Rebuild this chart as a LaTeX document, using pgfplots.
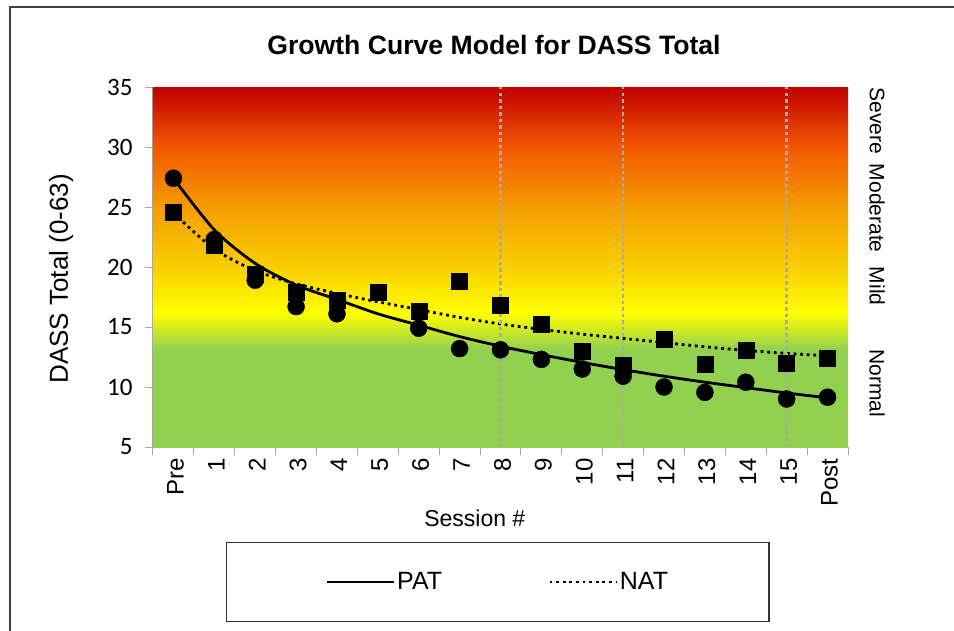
\documentclass[border=0pt]{standalone}
\usepackage{pgfplots}
\pgfplotsset{compat=1.18}
\usepackage{fontspec}
\setmainfont{Liberation Sans}
\newfontfamily\calibri{Carlito}
\definecolor{dgreen}{HTML}{92D050}
\definecolor{dyellow}{HTML}{FFFF00}
\definecolor{dgold}{HTML}{F8CF00}
\definecolor{dorange}{HTML}{F49D00}
\definecolor{dredorange}{HTML}{F25700}
\definecolor{dred}{HTML}{C00000}
\definecolor{vgray}{HTML}{A9A9B0}
\definecolor{axgray}{HTML}{A6A6A6}
\pgfdeclareverticalshading{dass}{100bp}{color(0bp)=(dgreen); color(38.5bp)=(dgreen); color(43.6bp)=(dyellow); color(50bp)=(dgold); color(58.33bp)=(dorange); color(66.67bp)=(dredorange); color(75bp)=(dred); color(100bp)=(dred)}
\begin{document}
\begin{tikzpicture}[x=1pt,y=1pt]
\useasboundingbox (0,0) rectangle (954,-631);
\draw[color=black!75, line width=2pt] (10,-640) -- (10,-7) -- (960,-7);
\node[font=\bfseries\fontsize{26.6}{26.6}\selectfont] at (494,-45) {Growth Curve Model for DASS Total};
\begin{axis}[
  at={(153pt,-447pt)}, anchor=south west,
  scale only axis, width=695pt, height=360pt,
  xmin=-0.5, xmax=16.5, ymin=5, ymax=35,
  clip=false,
  axis x line*=bottom, axis y line*=left,
  axis line style={draw=axgray, line width=1pt, -},
  tick align=outside,
  ytick={5,10,...,35},
  xtick={0,...,16},
  xticklabels={Pre,1,2,3,4,5,6,7,8,9,10,11,12,13,14,15,Post},
  minor xtick={-0.5,0.5,...,16.5},
  major x tick style={draw=none},
  major tick length=8pt, minor tick length=8pt,
  tick style={draw=axgray, line width=1pt},
  /pgf/number format/assume math mode=true,
  yticklabel style={font=\calibri\fontsize{25}{25}\selectfont, xshift=-9pt},
  xticklabel style={rotate=90, anchor=east, font=\fontsize{24}{24}\selectfont, yshift=-2pt},
  xlabel={Session \#},
  xlabel style={at={(axis description cs:0.463,-0.197)}, anchor=center, font=\fontsize{23}{23}\selectfont},
  ylabel={DASS Total (0-63)},
  ylabel style={at={(axis description cs:-0.132,0.467)}, anchor=center, font=\fontsize{26}{26}\selectfont},
  legend columns=2,
  legend image code/.code={\draw[#1] (0pt,0pt) -- (67pt,0pt);},
  legend style={at={(axis description cs:0.496,-0.264)}, anchor=north, draw=black!80, line width=1.3pt,
    inner xsep=99pt, inner ysep=28pt, font=\fontsize{25}{25}\selectfont,
    /tikz/every even column/.append style={column sep=104pt}},
]
\shade[shading=dass] (axis cs:-0.5,5) rectangle (axis cs:16.5,35);
% fitted curves
\addplot[black, line width=2.8pt, smooth] coordinates {
(0,27.4) (1,23.1) (2,20.3) (3,18.5) (4,17.3) (5,16.1) (6,15.15) (7,14.2) (8,13.4)
(9,12.7) (10,12.05) (11,11.45) (12,10.9) (13,10.4) (14,9.95) (15,9.5) (16,9.1)};
\addlegendentry{PAT}
\addplot[black, line width=2.8pt, dash pattern=on 2.8pt off 3.8pt, smooth] coordinates {
(0,24.5) (1,21.5) (2,19.7) (3,18.6) (4,17.8) (5,17.1) (6,16.45) (7,15.8) (8,15.25)
(9,14.8) (10,14.4) (11,14.05) (12,13.7) (13,13.35) (14,13.05) (15,12.8) (16,12.6)};
\addlegendentry{NAT}
% observed means
\addplot[only marks, mark=*, mark size=8.5pt, black, forget plot] coordinates {
(0,27.4) (1,22.3) (2,18.9) (3,16.7) (4,16.1) (6,14.9) (7,13.2) (8,13.1)
(9,12.3) (10,11.5) (11,10.9) (12,10.0) (13,9.55) (14,10.4) (15,9.0) (16,9.15)};
\addplot[only marks, mark=square*, mark size=8pt, black, forget plot] coordinates {
(0,24.6) (1,21.8) (2,19.4) (3,17.9) (4,17.2) (5,17.9) (6,16.3) (7,18.8) (8,16.8)
(9,15.2) (10,13.0) (11,11.8) (12,13.95) (13,11.9) (14,13.1) (15,12.0) (16,12.4)};
% phase markers
\addplot[vgray, line width=2.6pt, dash pattern=on 3.5pt off 3pt, forget plot] coordinates {(8,5) (8,35)};
\addplot[vgray, line width=2.6pt, dash pattern=on 3.5pt off 3pt, forget plot] coordinates {(11,5) (11,35)};
\addplot[vgray, line width=2.6pt, dash pattern=on 3.5pt off 3pt, forget plot] coordinates {(15,5) (15,35)};
% severity labels
\node[rotate=-90, anchor=center, font=\fontsize{21}{21}\selectfont] at (axis cs:17.21,32.2) {Severe};
\node[rotate=-90, anchor=center, font=\fontsize{21}{21}\selectfont] at (axis cs:17.21,24.9) {Moderate};
\node[rotate=-90, anchor=center, font=\fontsize{21}{21}\selectfont] at (axis cs:17.21,18.4) {Mild};
\node[rotate=-90, anchor=center, font=\fontsize{21}{21}\selectfont] at (axis cs:17.21,10.3) {Normal};
\end{axis}
\end{tikzpicture}
\end{document}
